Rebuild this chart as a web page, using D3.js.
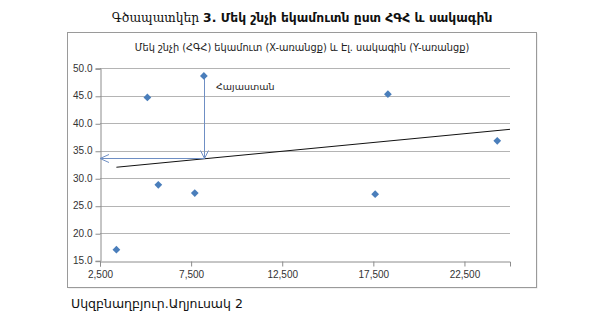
<!DOCTYPE html>
<html>
<head>
<meta charset="utf-8">
<script src="https://cdn.jsdelivr.net/npm/d3@7"></script>
<style>
  body { margin: 0; background: #fff; }
  svg { display: block; }
  .tick text { font-family: "Liberation Sans", Arial, sans-serif; font-size: 10px; fill: #333; }
</style>
</head>
<body>
<svg id="chart" width="600" height="324"></svg>
<script>
// values
const incomeX = [3400, 5100, 5700, 7700, 8200, 17600, 18300, 24300];
const tariffY = [17.0, 44.7, 28.8, 27.3, 48.6, 27.1, 45.3, 36.8];
const trendX = [3400, 25000];
const trendY = [32.0, 38.9];
const armenia = { x: 8200, y: 48.6, hit: 33.6, label: 'Հայաստան' };
const xTicks = [2500, 7500, 12500, 17500, 22500];
const yTicks = [15, 20, 25, 30, 35, 40, 45, 50];

const arm = '"DejaVu Sans", sans-serif';

const svg = d3.select('#chart');
const box = { left: 67.5, top: 32.5, right: 536.5, bottom: 287.5 };
const plot = { left: 100, right: 510, top: 68.3, bottom: 260.7 };

const x = d3.scaleLinear().domain([2500, 25000]).range([plot.left, plot.right]);
const y = d3.scaleLinear().domain([15, 50]).range([plot.bottom, plot.top]);

// fit a text to a width by adjusting font size
function fitText(sel, width) {
  const w = sel.node().getComputedTextLength();
  const fs = parseFloat(sel.attr('font-size'));
  sel.attr('font-size', fs * width / w);
}

// figure title
const title = svg.append('text')
  .attr('x', 302).attr('y', 22)
  .attr('text-anchor', 'middle')
  .attr('font-size', 14)
  .attr('fill', '#111');
title.append('tspan')
  .attr('font-family', '"DejaVu Serif", serif')
  .text('Գծապատկեր ');
title.append('tspan')
  .attr('font-family', arm)
  .attr('font-weight', 'bold')
  .text('3. Մեկ շնչի եկամուտն ըստ ՀԳՀ և սակագին');
fitText(title, 381);

// chart frame
svg.append('rect')
  .attr('x', box.left + 1).attr('y', box.top + 1)
  .attr('width', box.right - box.left).attr('height', box.bottom - box.top)
  .attr('fill', '#e4e4e4');
svg.append('rect')
  .attr('x', box.left).attr('y', box.top)
  .attr('width', box.right - box.left).attr('height', box.bottom - box.top)
  .attr('fill', '#fff').attr('stroke', '#9a9a9a');

const sub = svg.append('text')
  .attr('x', 302).attr('y', 51)
  .attr('text-anchor', 'middle')
  .attr('font-family', arm)
  .attr('font-size', 11)
  .attr('fill', '#222')
  .text('Մեկ շնչի (ՀԳՀ) եկամուտ (X-առանցք) և Էլ. սակագին (Y-առանցք)');
fitText(sub, 335);

// gridlines
svg.append('g')
  .selectAll('line')
  .data(yTicks.slice(1))
  .join('line')
  .attr('x1', plot.left).attr('x2', plot.right)
  .attr('y1', d => Math.round(y(d)) + 0.5).attr('y2', d => Math.round(y(d)) + 0.5)
  .attr('stroke', '#b4b4b4');

// axes
const yAxis = svg.append('g')
  .attr('transform', `translate(${plot.left + 0.5},0)`)
  .call(d3.axisLeft(y).tickValues(yTicks).tickFormat(d3.format('.1f')).tickSize(5).tickPadding(3));
const xAxis = svg.append('g')
  .attr('transform', `translate(0,${Math.round(y(15)) + 0.5})`)
  .call(d3.axisBottom(x).tickValues(xTicks).tickFormat(d3.format(',')).tickSize(5).tickPadding(4));
[xAxis, yAxis].forEach(a => {
  a.select('.domain').attr('stroke', '#8c8c8c');
  a.selectAll('.tick line').attr('stroke', '#8c8c8c');
});
yAxis.selectAll('.tick line').attr('transform', 'translate(0,0.5)');

// trend line
svg.append('line')
  .attr('x1', x(trendX[0])).attr('y1', y(trendY[0]))
  .attr('x2', x(trendX[1])).attr('y2', y(trendY[1]))
  .attr('stroke', '#111').attr('stroke-width', 1);

// Armenia arrows
const arrowColor = '#6f8fc4';
const ax = Math.round(x(armenia.x)) + 0.5;
const hy = Math.round(y(armenia.hit)) + 0.5;
const ann = svg.append('g').attr('stroke', arrowColor).attr('fill', 'none').attr('stroke-width', 1);
ann.append('line').attr('x1', ax).attr('y1', y(armenia.y)).attr('x2', ax).attr('y2', hy);
ann.append('path').attr('d', `M${ax - 4},${hy - 8}L${ax},${hy}L${ax + 4},${hy - 8}`);
ann.append('line').attr('x1', ax).attr('y1', hy).attr('x2', x(2500)).attr('y2', hy);
ann.append('path').attr('d', `M${x(2500) + 9},${hy - 4}L${x(2500)},${hy}L${x(2500) + 9},${hy + 4}`);

svg.append('text')
  .attr('x', 216).attr('y', 90)
  .attr('font-family', arm)
  .attr('font-size', 9.5)
  .attr('fill', '#222')
  .text(armenia.label);

// points
const diamond = d3.symbol().type(d3.symbolSquare).size(30);
svg.append('g')
  .selectAll('path')
  .data(incomeX.map((v, i) => [v, tariffY[i]]))
  .join('path')
  .attr('d', diamond)
  .attr('transform', d => `translate(${x(d[0])},${y(d[1])}) rotate(45)`)
  .attr('fill', '#4a7ebb');

// source note
const note = svg.append('text')
  .attr('x', 71).attr('y', 308)
  .attr('font-family', arm)
  .attr('font-size', 13)
  .attr('fill', '#111')
  .text('Սկզբնաղբյուր.Աղյուսակ 2');
fitText(note, 172);
</script>
</body>
</html>
